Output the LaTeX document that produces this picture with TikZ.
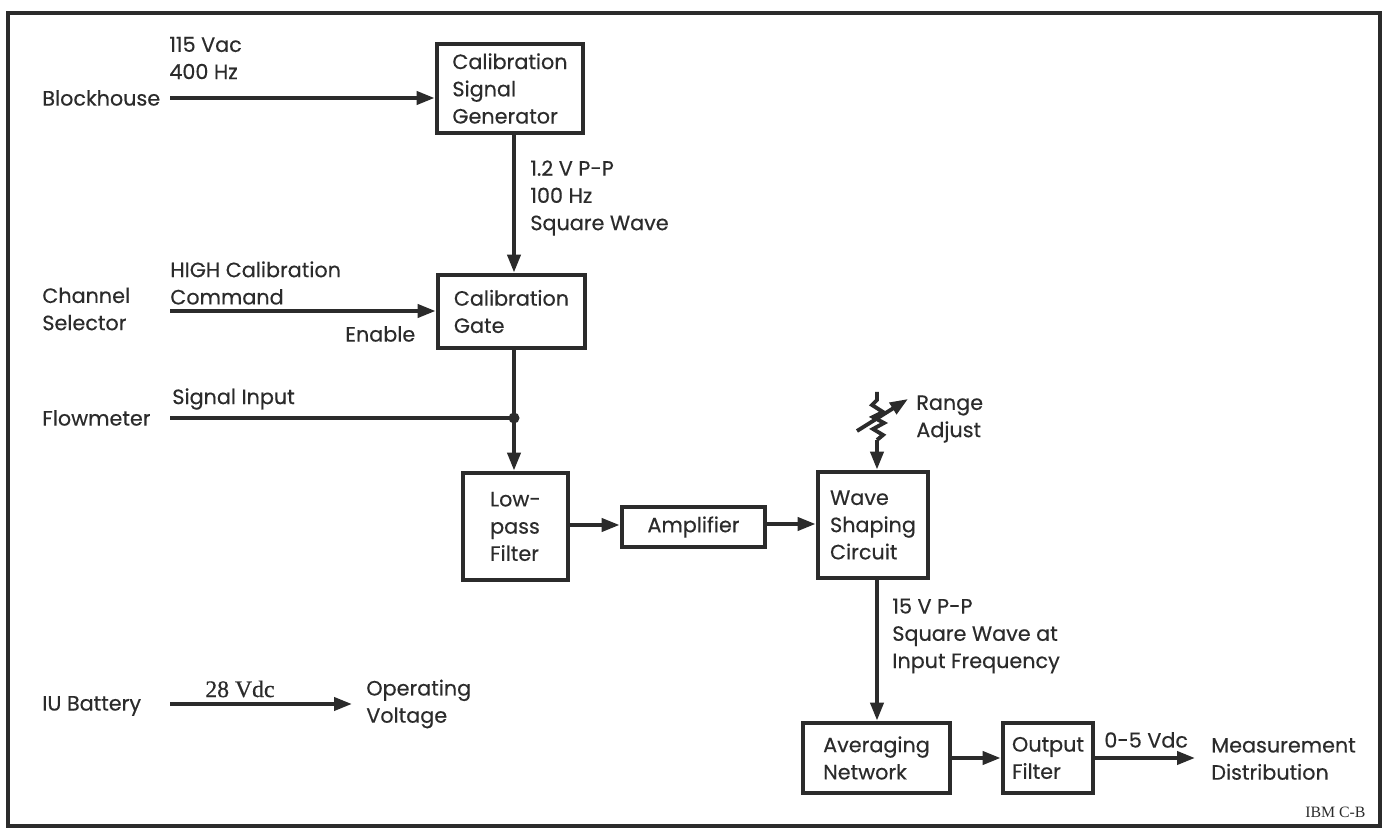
\documentclass[tikz,border=0pt]{standalone}
\usepackage{fontspec}
\usepackage{tikz}
\usetikzlibrary{arrows.meta,positioning,calc}
\newfontfamily\diafont[FakeBold=0.4]{Poppins}
\newfontfamily\ibmfont{Liberation Serif}
\newfontfamily\vdcfont[FakeBold=0.6]{Liberation Serif}
\definecolor{ink}{HTML}{2B2B2B}

\begin{document}
\begin{tikzpicture}[x=0.02cm,y=-0.02cm,
  txt/.style={font=\diafont\fontsize{11.8}{15.5}\selectfont,text=ink,align=left,inner sep=0pt,anchor=west},
  blk/.style={draw=ink,line width=2.7pt,font=\diafont\fontsize{11.8}{15.5}\selectfont,text=ink,align=left,inner sep=2pt},
  wire/.style={draw=ink,line width=2.2pt},
  arr/.style={wire,-{Triangle[length=3.6mm,width=2.6mm]}}]
  \useasboundingbox (0,0) rectangle (1387,830);
  \draw[ink,line width=2pt] (8,13) rectangle (1380,826);
  % blocks
  \node[blk,minimum width=2.92cm,minimum height=1.78cm] (csg) at (510,88.5) {Calibration\\Signal\\Generator};
  \node[blk,minimum width=2.94cm,minimum height=1.46cm] (gate) at (511.5,311.5) {Calibration\\Gate};
  \node[blk,minimum width=2.1cm,minimum height=2.14cm] (lpf) at (515.5,526.5) {Low-\\pass\\Filter};
  \node[blk,minimum width=2.86cm,minimum height=0.8cm] (amp) at (693.5,527) {Amplifier};
  \node[blk,minimum width=2.2cm,minimum height=2.12cm] (wsc) at (873,525) {Wave\\Shaping\\Circuit};
  \node[blk,minimum width=2.94cm,minimum height=1.4cm] (avg) at (876.5,758) {Averaging\\Network};
  \node[blk,minimum width=1.8cm,minimum height=1.4cm] (ofl) at (1048,758) {Output\\Filter};
  % sources and labels
  \node[txt] (bh) at (42,98) {Blockhouse};
  \node[txt] (chs) at (42,309) {Channel\\Selector};
  \node[txt] (flw) at (42,418) {Flowmeter};
  \node[txt] (iub) at (42,706) {IU Battery};
  \node[txt] (opv) at (366,704) {Operating\\Voltage};
  \node[txt] (meas) at (1211,759) {Measurement\\Distribution};
  \node[txt] (ac) at (169,58) {115 Vac\\400 Hz};
  \node[txt] (sq) at (530,198) {1.2 V P-P\\100 Hz\\Square Wave};
  \node[txt] (cmd) at (170,283) {HIGH Calibration\\Command};
  \node[txt] (ena) at (345,334) {Enable};
  \node[txt] (sin) at (172,399) {Signal Input};
  \node[txt] (rng) at (916,419) {Range\\Adjust};
  \node[txt] (sqo) at (892,636) {15 V P-P\\Square Wave at\\Input Frequency};
  \node[txt,font=\vdcfont\fontsize{13.5}{15}\selectfont] (vdc) at (205,689) {28 Vdc};
  \node[txt] (ovd) at (1104,740) {0-5 Vdc};
  \node[anchor=west,inner sep=0pt,text=ink,font=\ibmfont\fontsize{9}{10}\selectfont] (ibm) at (1305,812) {IBM C-B};
  % connectors
  \coordinate (bhin) at (170,98);
  \coordinate (chin) at (170,311);
  \coordinate (flin) at (170,418);
  \coordinate (iuin) at (170,704);
  \coordinate (iuout) at (352,704);
  \coordinate (mdst) at (1195,758);
  \coordinate (jn) at (514,418);
  \draw[arr] (bhin) -- (bhin -| csg.west);
  \draw[arr] (csg.south -| jn) -- (gate.north -| jn);
  \draw[arr] (chin) -- (chin -| gate.west);
  \draw[wire] (gate.south -| jn) -- (jn);
  \draw[wire] (flin) -- (jn);
  \fill[ink] (jn) circle (0.11cm);
  \draw[arr] (jn) -- (lpf.north -| jn);
  \draw[arr] (lpf.east |- 0,525) -- (amp.west |- 0,525);
  \draw[arr] (amp.east |- 0,524) -- (wsc.west |- 0,524);
  \draw[arr] (avg.east) -- (ofl.west);
  \draw[arr] (ofl.east) -- (mdst);
  \draw[arr] (iuin) -- (iuout);
  % variable resistor
  \coordinate (rtop) at (877,392);
  \draw[wire,line join=miter] (rtop) -- ++(0,8) -- ++(-5,5) -- ++(11,7) -- ++(-10,5) -- ++(11,6)
    -- ++(-11,6) -- ++(10,6) -- ++(-6,5) coordinate (rbot);
  \draw[arr] (rbot) -- (rbot |- wsc.north);
  \draw[arr] (wsc.south -| rtop) -- (avg.north -| rtop);
  \draw[arr] (857,431) -- (908,399);
\end{tikzpicture}
\end{document}
